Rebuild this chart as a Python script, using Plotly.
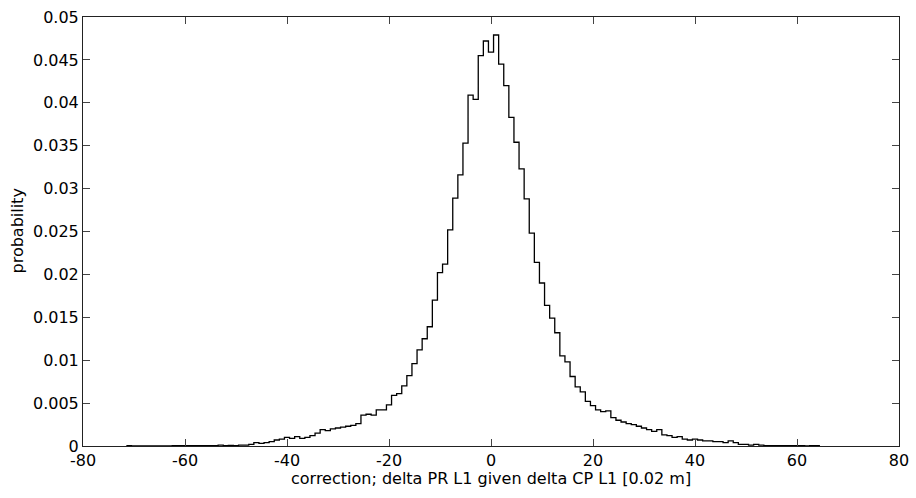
import plotly.graph_objects as go

# bin centres (integer correction values) and probabilities
bin_centers = list(range(-71, 65))
probability = (
    [0.00003] + [0.0] * 8 +                       # -71 .. -63
    [0.00003] * 9 +                                # -62 .. -54
    [0.0001, 0.00005, 0.00008, 0.00005, 0.0001, 0.0001, 0.0002,   # -53 .. -47
     0.0004, 0.0003, 0.0004, 0.0005, 0.0007, 0.0008, 0.0010,      # -46 .. -40
     0.0009, 0.0011, 0.0009, 0.0010, 0.0012, 0.0015, 0.0019,      # -39 .. -33
     0.0018, 0.0020, 0.0021, 0.0022, 0.0023, 0.0024, 0.0026,      # -32 .. -26
     0.0036, 0.0037, 0.0036, 0.0042, 0.0042, 0.0048, 0.0059,      # -25 .. -19
     0.0061, 0.0070, 0.0082, 0.0096, 0.0112, 0.0125, 0.0139,      # -18 .. -12
     0.0170, 0.0202, 0.0212, 0.0252, 0.0289, 0.0316, 0.0353,      # -11 .. -5
     0.0409, 0.0404, 0.0455, 0.0472, 0.0459, 0.0479, 0.0445,      # -4 .. 2
     0.0420, 0.0383, 0.0354, 0.0323, 0.0288, 0.0248, 0.0214,      # 3 .. 9
     0.0190, 0.0164, 0.0149, 0.0132, 0.0105, 0.0098, 0.0081,      # 10 .. 16
     0.0069, 0.0063, 0.0052, 0.0047, 0.0042, 0.0040, 0.0041,      # 17 .. 23
     0.0033, 0.0030, 0.0028, 0.0026, 0.0025, 0.0023, 0.0021,      # 24 .. 30
     0.0019, 0.0017, 0.0019, 0.0013, 0.0012, 0.0010, 0.0011,      # 31 .. 37
     0.0008, 0.0007, 0.0008, 0.0007, 0.0006, 0.0006, 0.0005,      # 38 .. 44
     0.0005, 0.0004, 0.0006, 0.0004, 0.0002, 0.0002, 0.0001,      # 45 .. 51
     0.0002, 0.0001] +                                            # 52 .. 53
    [0.00005] * 7 +                                               # 54 .. 60
    [0.00004, 0.0, 0.00004, 0.00003]                              # 61 .. 64
)

x_ticks = [-80, -60, -40, -20, 0, 20, 40, 60, 80]
x_tick_labels = ["-80", "-60", "-40", "-20", "0", "20", "40", "60", "80"]
y_ticks = [0, 0.005, 0.01, 0.015, 0.02, 0.025, 0.03, 0.035, 0.04, 0.045, 0.05]
y_tick_labels = ["0", "0.005", "0.01", "0.015", "0.02", "0.025", "0.03",
                 "0.035", "0.04", "0.045", "0.05"]
x_title = "correction; delta PR L1 given delta CP L1 [0.02 m]"
y_title = "probability"

# stairs: step starts at left bin edge
xs = [c - 0.5 for c in bin_centers] + [bin_centers[-1] + 0.5]
ys = probability + [probability[-1]]

fig = go.Figure()
fig.add_trace(go.Scatter(x=xs, y=ys, mode="lines", line_shape="hv",
                         line=dict(color="black", width=1.3),
                         showlegend=False, hoverinfo="skip"))

font = dict(family="DejaVu Sans, sans-serif", size=16, color="black")
fig.update_layout(
    width=916, height=498,
    margin=dict(l=83, r=17, t=17, b=52),
    paper_bgcolor="white", plot_bgcolor="white",
    font=font,
    xaxis=dict(range=[-80, 80], tickvals=x_ticks, ticktext=x_tick_labels,
               ticks="inside", ticklen=7,
               showline=True, linecolor="#222", linewidth=1, mirror="ticks",
               showgrid=False, zeroline=False, tickfont=font, automargin=False),
    yaxis=dict(range=[0, 0.05], tickvals=y_ticks, ticktext=y_tick_labels,
               ticks="inside", ticklen=7, automargin=False,
               showline=True, linecolor="#222", linewidth=1, mirror="ticks",
               showgrid=False, zeroline=False, tickfont=font),
    annotations=[
        dict(text=x_title, xref="paper", yref="paper", x=0.5, y=0,
             xanchor="center", yanchor="middle", yshift=-32,
             showarrow=False, font=font),
        dict(text=y_title, xref="paper", yref="paper", x=0, y=0.5,
             xanchor="center", yanchor="middle", xshift=-66, textangle=-90,
             showarrow=False, font=font),
    ],
)

fig.write_html("out.html",
               config={"displayModeBar": False},
               post_script="document.body.style.margin='0px';"
                           "document.body.style.overflow='hidden';")
